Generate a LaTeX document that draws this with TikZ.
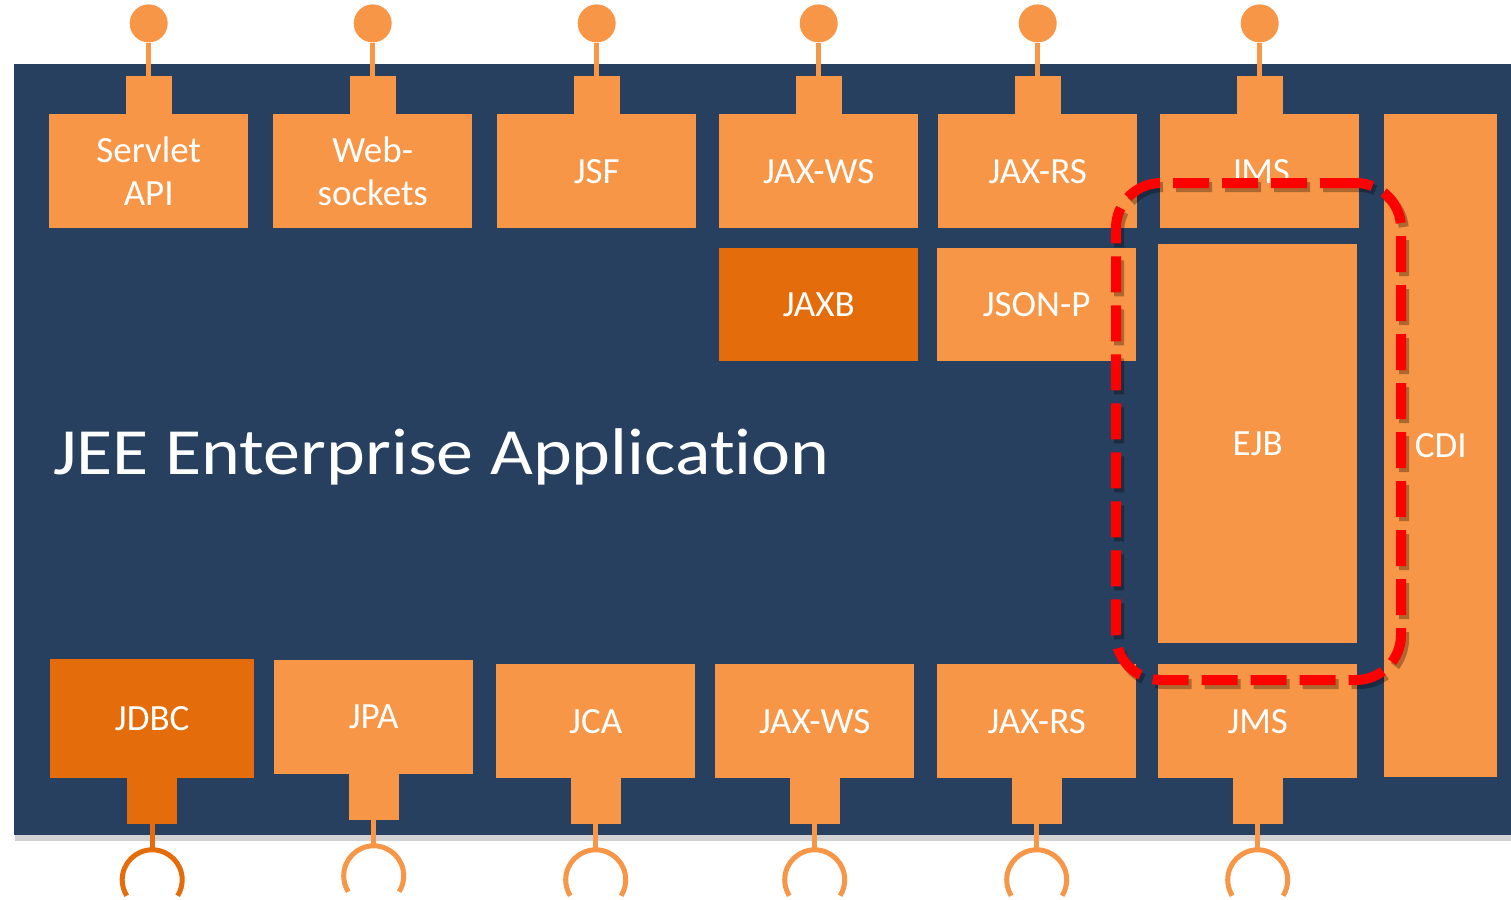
\documentclass[tikz,border=0pt]{standalone}
\usepackage{fontspec}
\setmainfont{Carlito}[Ligatures={NoCommon,NoDiscretionary}]
\usetikzlibrary{positioning}
\definecolor{appblue}{RGB}{39,64,95}
\definecolor{lightorange}{RGB}{247,150,70}
\definecolor{darkorange}{RGB}{228,108,10}
\begin{document}
\begin{tikzpicture}[x=1pt,y=-1pt]

\tikzset{box/.style = {fill=lightorange,text=white,inner sep=0pt,minimum width=199pt,minimum height=114pt,anchor=north west,align=center,font=\fontsize{37}{43}\selectfont}}
\tikzset{darkbox/.style = {box,fill=darkorange}}
\tikzset{tab/.style = {fill=lightorange,inner sep=0pt,minimum width=46pt,minimum height=38pt}}
\tikzset{btab/.style = {tab,minimum width=50pt,minimum height=46pt}}
\tikzset{plug/.style = {shape=circle,fill=lightorange,inner sep=0pt,minimum size=38pt}}
\tikzset{stem/.style = {draw=lightorange,line width=5pt}}
\tikzset{socket/.style = {draw=lightorange,line width=5pt}}
\tikzset{highlight/.style = {draw=red,line width=10pt,dash pattern=on 36pt off 13pt,rounded corners=45pt,minimum width=285pt,minimum height=497pt,inner sep=0pt}}

\useasboundingbox (0,0) rectangle (1511,899);
%application
\fill[black,opacity=.18] (15,67) rectangle (1511,841);
\fill[appblue] (14,64) rectangle (1511,835);
\node[anchor=base west,text=white,inner sep=0pt,font=\fontsize{66}{80}\selectfont] (title) at (53,474) {\scalebox{1.12}[1]{JEE Enterprise Applicat\kern0pt ion}};

%top boxes
\node[box] (servlet) at (49,114) {Servlet\\API};
\node[box] (websock) at (273,114) {Web-\\sockets};
\node[box] (jsf) at (497,114) {JSF};
\node[box] (jaxwsT) at (719,114) {JAX-WS};
\node[box] (jaxrsT) at (938,114) {JAX-RS};
\node[box] (jmsT) at (1160,114) {JMS};
\node[darkbox,minimum height=113pt] (jaxb) at (719,248) {JAXB};
\node[box,minimum height=113pt] (jsonp) at (937,248) {JSON-P};
\node[box,minimum height=399pt] (ejb) at (1158,244) {EJB};
\node[box,minimum width=113pt,minimum height=663pt] (cdi) at (1384,114) {CDI};

%bottom boxes
\node[darkbox,minimum width=204pt,minimum height=119pt] (jdbc) at (50,659) {JDBC};
\node[box] (jpa) at (274,660) {JPA};
\node[box] (jca) at (496,664) {JCA};
\node[box] (jaxwsB) at (715,664) {JAX-WS};
\node[box] (jaxrsB) at (937,664) {JAX-RS};
\node[box] (jmsB) at (1158,664) {JMS};

%top plugs
\node[tab,anchor=south] (servletT) at (servlet.north) {};
\node[tab,anchor=south] (websockT) at (websock.north) {};
\node[tab,anchor=south] (jsfT) at (jsf.north) {};
\node[tab,anchor=south] (jaxwsTT) at (jaxwsT.north) {};
\node[tab,anchor=south] (jaxrsTT) at (jaxrsT.north) {};
\node[tab,anchor=south] (jmsTT) at (jmsT.north) {};
\node[plug,above=33pt of servletT] (servletP) {};
\node[plug,above=33pt of websockT] (websockP) {};
\node[plug,above=33pt of jsfT] (jsfP) {};
\node[plug,above=33pt of jaxwsTT] (jaxwsTP) {};
\node[plug,above=33pt of jaxrsTT] (jaxrsTP) {};
\node[plug,above=33pt of jmsTT] (jmsTP) {};
\draw[stem] (servletT) -- (servletP);
\draw[stem] (websockT) -- (websockP);
\draw[stem] (jsfT) -- (jsfP);
\draw[stem] (jaxwsTT) -- (jaxwsTP);
\draw[stem] (jaxrsTT) -- (jaxrsTP);
\draw[stem] (jmsTT) -- (jmsTP);

%bottom sockets
\node[btab,fill=darkorange,anchor=north,yshift=1pt] (jdbcT) at (jdbc.south) {};
\node[btab,anchor=north,yshift=1pt] (jpaT) at (jpa.south) {};
\node[btab,anchor=north,yshift=1pt] (jcaT) at (jca.south) {};
\node[btab,anchor=north,yshift=1pt] (jaxwsBT) at (jaxwsB.south) {};
\node[btab,anchor=north,yshift=1pt] (jaxrsBT) at (jaxrsB.south) {};
\node[btab,anchor=north,yshift=1pt] (jmsBT) at (jmsB.south) {};
\coordinate[below=26pt of jdbcT] (jdbcS);
\coordinate[below=26pt of jpaT] (jpaS);
\coordinate[below=26pt of jcaT] (jcaS);
\coordinate[below=26pt of jaxwsBT] (jaxwsBS);
\coordinate[below=26pt of jaxrsBT] (jaxrsBS);
\coordinate[below=26pt of jmsBT] (jmsBS);
\draw[stem,draw=darkorange] (jdbcT) -- (jdbcS);
\draw[stem] (jpaT) -- (jpaS);
\draw[stem] (jcaT) -- (jcaS);
\draw[stem] (jaxwsBT) -- (jaxwsBS);
\draw[stem] (jaxrsBT) -- (jaxrsBS);
\draw[stem] (jmsBT) -- (jmsBS);
\draw[socket,draw=darkorange] (jdbcS) arc[start angle=90,end angle=-32,radius=30pt] (jdbcS) arc[start angle=90,end angle=212,radius=30pt];
\draw[socket] (jpaS) arc[start angle=90,end angle=-32,radius=30pt] (jpaS) arc[start angle=90,end angle=212,radius=30pt];
\draw[socket] (jcaS) arc[start angle=90,end angle=-32,radius=30pt] (jcaS) arc[start angle=90,end angle=212,radius=30pt];
\draw[socket] (jaxwsBS) arc[start angle=90,end angle=-32,radius=30pt] (jaxwsBS) arc[start angle=90,end angle=212,radius=30pt];
\draw[socket] (jaxrsBS) arc[start angle=90,end angle=-32,radius=30pt] (jaxrsBS) arc[start angle=90,end angle=212,radius=30pt];
\draw[socket] (jmsBS) arc[start angle=90,end angle=-32,radius=30pt] (jmsBS) arc[start angle=90,end angle=212,radius=30pt];

%ejb marker
\node[highlight,draw=black,opacity=.3] (ejbshade) at (1261.5,435.5) {};
\node[highlight] (ejbzone) at (1258.5,431.5) {};

\end{tikzpicture}
\end{document}
